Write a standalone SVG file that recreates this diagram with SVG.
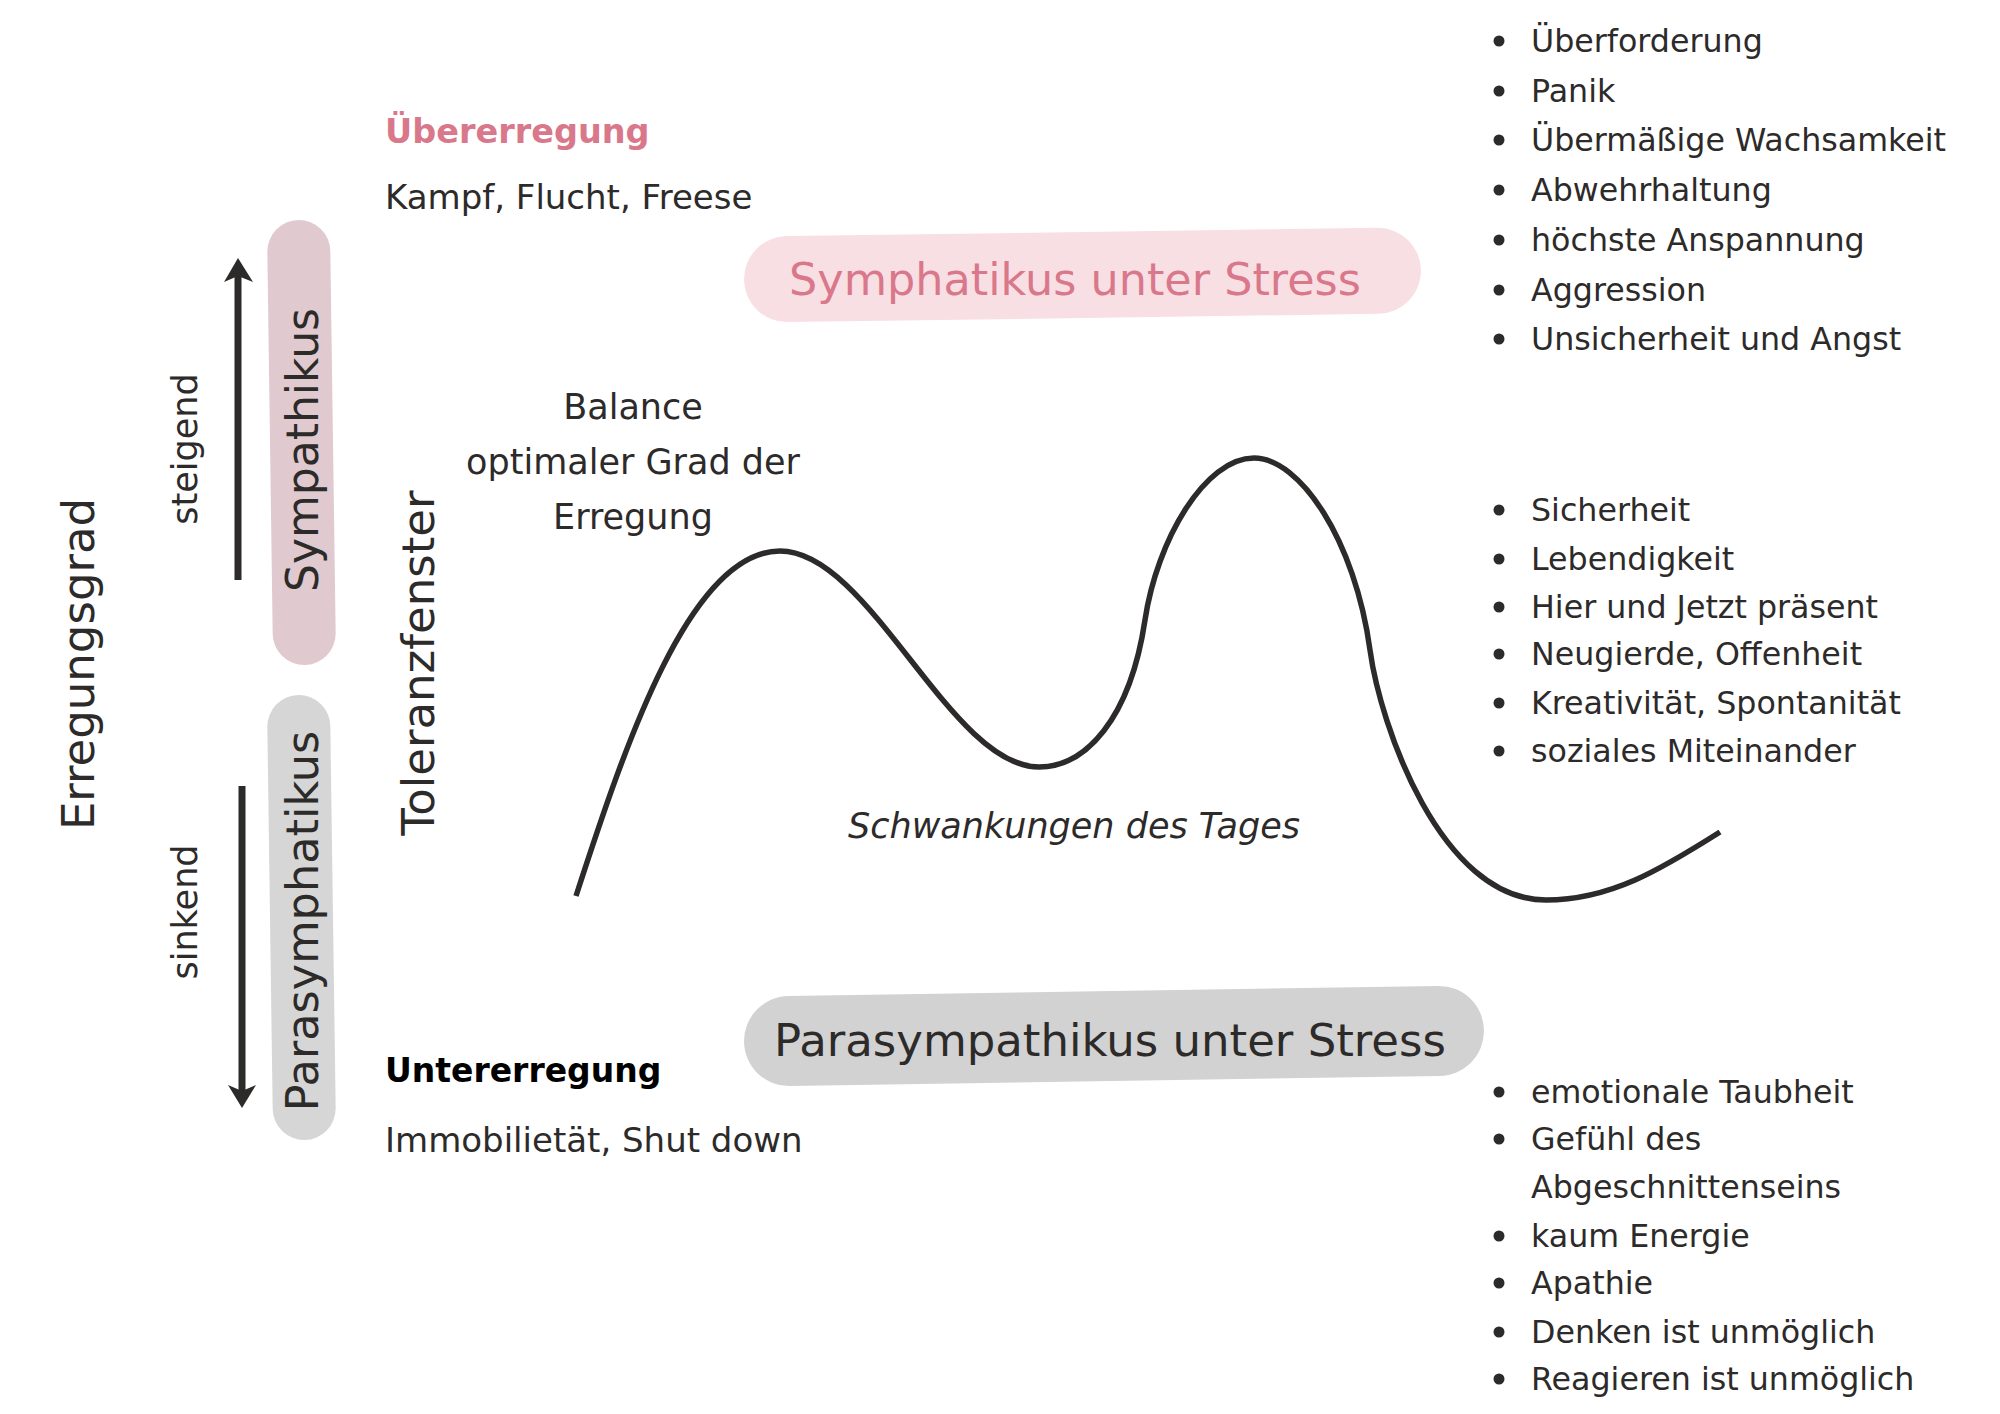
<svg xmlns="http://www.w3.org/2000/svg" width="2000" height="1414" viewBox="0 0 2000 1414">
<style>
text{font-family:"DejaVu Sans","Noto Sans",sans-serif;fill:#2d2a2a}
.list{font-size:31.7px}
.rot{font-size:44px;text-anchor:middle}
.side{font-size:35px;text-anchor:middle}
.body{font-size:34px}
.bal{font-size:35px;text-anchor:middle}
.pink{fill:#d9788a}
.bul{fill:#2d2a2a}
</style>
<rect width="2000" height="1414" fill="#ffffff"/>
<g id="axis-erregungsgrad"><text class="rot" style="font-size:45px" transform="translate(94,664) rotate(-90)">Erregungsgrad</text></g>
<g id="label-steigend"><text class="side" transform="translate(197,449) rotate(-90)">steigend</text></g>
<g id="label-sinkend"><text class="side" transform="translate(197,912) rotate(-90)">sinkend</text></g>
<g id="node-sympathikus">
<rect x="270" y="220" width="63" height="445" rx="31.5" fill="#e0cacf" transform="rotate(-0.8 302 442)"/>
<text class="rot" transform="translate(318,450) rotate(-90)">Sympathikus</text>
</g>
<g id="node-parasymphatikus">
<rect x="270" y="695" width="63" height="445" rx="31.5" fill="#d6d6d6" transform="rotate(-0.8 302 917)"/>
<text class="rot" style="font-size:44.6px" transform="translate(318,921) rotate(-90)">Parasymphatikus</text>
</g>
<g id="axis-toleranzfenster"><text class="rot" style="font-size:45px" transform="translate(434,663) rotate(-90)">Toleranzfenster</text></g>
<g id="connectors">
<line x1="238" y1="580" x2="238" y2="274" stroke="#2d2a2a" stroke-width="7"/>
<polygon points="238,258 224,282 238,276 253,282" fill="#2d2a2a"/>
<line x1="242" y1="786" x2="242" y2="1092" stroke="#2d2a2a" stroke-width="7"/>
<polygon points="242,1108 228,1085 242,1091 256,1085" fill="#2d2a2a"/>
</g>
<g id="ubererregung">
<text x="385" y="143" class="pink" style="font-size:33.5px;font-weight:bold">Übererregung</text>
<text x="385" y="209" class="body">Kampf, Flucht, Freese</text>
</g>
<g id="node-symphatikus-stress">
<rect x="744" y="232" width="677" height="86" rx="43" fill="#f8dfe4" transform="rotate(-0.8 1082 275)"/>
<text x="1075" y="295" class="pink" style="font-size:44.5px;text-anchor:middle">Symphatikus unter Stress</text>
</g>
<g id="balance">
<text x="633" y="419" class="bal">Balance</text>
<text x="633" y="474" class="bal">optimaler Grad der</text>
<text x="633" y="529" class="bal">Erregung</text>
</g>
<g id="curve">
<path d="M576,896 C625,745 690,551 780,551 C870,551 950,767 1039,767 C1085,767 1130,720 1145,620 C1157,540 1205,458 1254,458 C1300,458 1355,540 1370,650 C1380,724 1440,900 1546,900 C1610,900 1660,870 1720,832" fill="none" stroke="#2d2a2a" stroke-width="5.5"/>
<text x="1074" y="838" style="font-size:35px;font-style:italic;text-anchor:middle">Schwankungen des Tages</text>
</g>
<g id="node-parasympathikus-stress">
<rect x="744" y="991" width="740" height="90" rx="45" fill="#d2d2d2" transform="rotate(-0.9 1114 1036)"/>
<text x="1110" y="1056" style="font-size:45px;text-anchor:middle">Parasympathikus unter Stress</text>
</g>
<g id="untererregung">
<text x="385" y="1082" style="font-size:33px;font-weight:bold;fill:#000">Untererregung</text>
<text x="385" y="1152" class="body">Immobilietät, Shut down</text>
</g>
<g id="list-stress" class="list">
<circle cx="1499" cy="41" r="5.5" class="bul"/><text x="1531" y="52">Überforderung</text>
<circle cx="1499" cy="91" r="5.5" class="bul"/><text x="1531" y="102">Panik</text>
<circle cx="1499" cy="140" r="5.5" class="bul"/><text x="1531" y="151">Übermäßige Wachsamkeit</text>
<circle cx="1499" cy="190" r="5.5" class="bul"/><text x="1531" y="201">Abwehrhaltung</text>
<circle cx="1499" cy="240" r="5.5" class="bul"/><text x="1531" y="251">höchste Anspannung</text>
<circle cx="1499" cy="290" r="5.5" class="bul"/><text x="1531" y="301">Aggression</text>
<circle cx="1499" cy="339" r="5.5" class="bul"/><text x="1531" y="350">Unsicherheit und Angst</text>
</g>
<g id="list-balance" class="list">
<circle cx="1499" cy="510" r="5.5" class="bul"/><text x="1531" y="521">Sicherheit</text>
<circle cx="1499" cy="559" r="5.5" class="bul"/><text x="1531" y="570">Lebendigkeit</text>
<circle cx="1499" cy="607" r="5.5" class="bul"/><text x="1531" y="618">Hier und Jetzt präsent</text>
<circle cx="1499" cy="654" r="5.5" class="bul"/><text x="1531" y="665">Neugierde, Offenheit</text>
<circle cx="1499" cy="703" r="5.5" class="bul"/><text x="1531" y="714">Kreativität, Spontanität</text>
<circle cx="1499" cy="751" r="5.5" class="bul"/><text x="1531" y="762">soziales Miteinander</text>
</g>
<g id="list-shutdown" class="list">
<circle cx="1499" cy="1092" r="5.5" class="bul"/><text x="1531" y="1103">emotionale Taubheit</text>
<circle cx="1499" cy="1139" r="5.5" class="bul"/><text x="1531" y="1150">Gefühl des</text>
<text x="1531" y="1198">Abgeschnittenseins</text>
<circle cx="1499" cy="1236" r="5.5" class="bul"/><text x="1531" y="1247">kaum Energie</text>
<circle cx="1499" cy="1283" r="5.5" class="bul"/><text x="1531" y="1294">Apathie</text>
<circle cx="1499" cy="1332" r="5.5" class="bul"/><text x="1531" y="1343">Denken ist unmöglich</text>
<circle cx="1499" cy="1379" r="5.5" class="bul"/><text x="1531" y="1390">Reagieren ist unmöglich</text>
</g>
</svg>
